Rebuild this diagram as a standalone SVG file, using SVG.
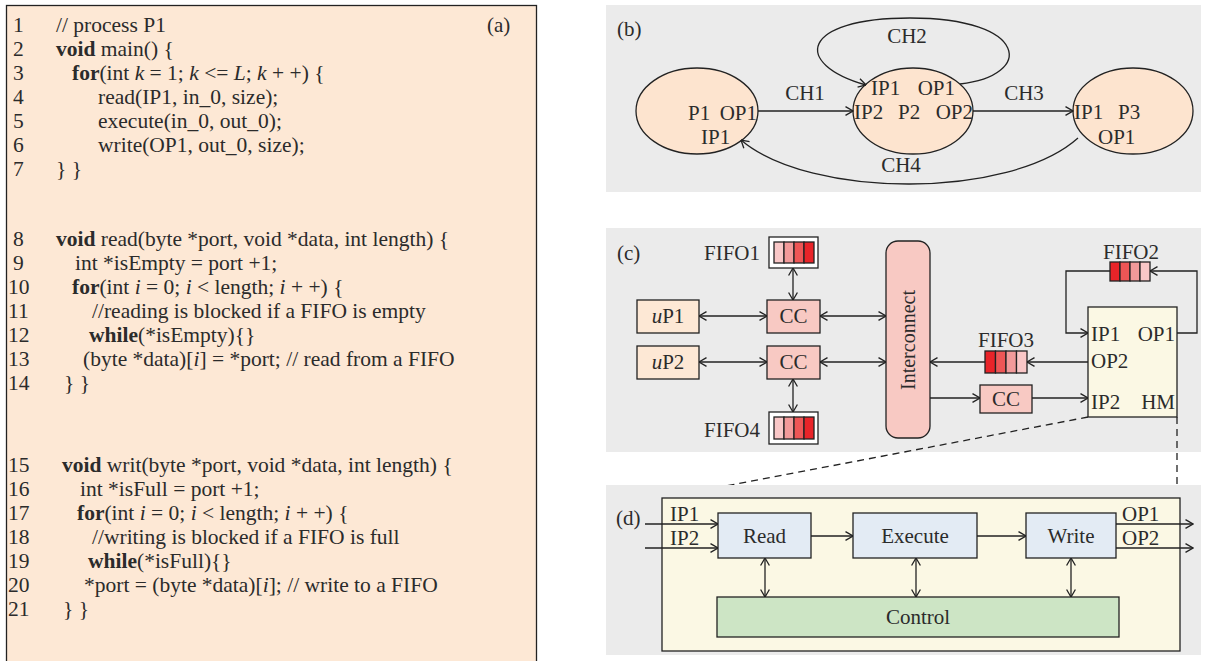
<svg xmlns="http://www.w3.org/2000/svg" width="1208" height="661" viewBox="0 0 1208 661">
  <defs>
    <marker id="ah" viewBox="0 0 10 10" refX="9.5" refY="5" markerWidth="10" markerHeight="10" markerUnits="userSpaceOnUse" orient="auto-start-reverse">
      <path d="M2,0.6 L9.5,5 L2,9.4" fill="none" stroke="#222" stroke-width="1.3"/>
    </marker>
    <style>
      text { font-family: "Liberation Serif", "Times New Roman", serif; fill: #2b2b2b; }
      .code { font-size: 21.5px; }
      .lbl { font-size: 21px; }
      .b { font-weight: bold; }
      .it { font-style: italic; }
      .panel { fill: #ebebeb; }
      .box { stroke: #222; stroke-width: 1.3; }
      .wire { fill: none; stroke: #222; stroke-width: 1.3; }
      .a1 { marker-end: url(#ah); }
      .a2 { marker-start: url(#ah); marker-end: url(#ah); }
      .dash { fill: none; stroke: #222; stroke-width: 1.3; stroke-dasharray: 7 5; }
      .peach { fill: #fde8d5; }
      .pink { fill: #f8c9c3; }
      .cream { fill: #fbf8e4; }
      .blue { fill: #e3ebf4; }
      .green { fill: #cde5c5; }
      .c1 { fill: #f9c7c7; }
      .c2 { fill: #f29a9a; }
      .c3 { fill: #ee5656; }
      .c4 { fill: #e92429; }
    </style>
  </defs>

  <!-- (a) source listing of process P1 -->
  <g id="panel-a">
    <rect x="6.5" y="5.5" width="530" height="670" class="box peach"/>
    <text x="487" y="32" class="lbl">(a)</text>
    <g class="code">
      <text x="13" y="32">1</text>
      <text x="56" y="32">// process P1</text>
      <text x="13" y="56">2</text>
      <text x="56" y="56"><tspan class="b">void</tspan> main() {</text>
      <text x="13" y="80">3</text>
      <text x="72" y="80"><tspan class="b">for</tspan>(int <tspan class="it">k</tspan> = 1; <tspan class="it">k</tspan> &lt;= <tspan class="it">L</tspan>; <tspan class="it">k</tspan> + +) {</text>
      <text x="13" y="104">4</text>
      <text x="98" y="104">read(IP1, in_0, size);</text>
      <text x="13" y="128">5</text>
      <text x="98" y="128">execute(in_0, out_0);</text>
      <text x="13" y="152">6</text>
      <text x="98" y="152">write(OP1, out_0, size);</text>
      <text x="13" y="176">7</text>
      <text x="56" y="176">} }</text>

      <text x="13" y="246">8</text>
      <text x="56" y="246"><tspan class="b">void</tspan> read(byte *port, void *data, int length) {</text>
      <text x="13" y="270">9</text>
      <text x="75" y="270">int *isEmpty = port +1;</text>
      <text x="8" y="294">10</text>
      <text x="72" y="294"><tspan class="b">for</tspan>(int <tspan class="it">i</tspan> = 0; <tspan class="it">i</tspan> &lt; length; <tspan class="it">i</tspan> + +) {</text>
      <text x="8" y="318">11</text>
      <text x="92" y="318">//reading is blocked if a FIFO is empty</text>
      <text x="8" y="342">12</text>
      <text x="89" y="342"><tspan class="b">while</tspan>(*isEmpty){}</text>
      <text x="8" y="366">13</text>
      <text x="83" y="366">(byte *data)[<tspan class="it">i</tspan>] = *port; // read from a FIFO</text>
      <text x="8" y="390">14</text>
      <text x="64" y="390">} }</text>

      <text x="8" y="472">15</text>
      <text x="62" y="472"><tspan class="b">void</tspan> writ(byte *port, void *data, int length) {</text>
      <text x="8" y="496">16</text>
      <text x="80" y="496">int *isFull = port +1;</text>
      <text x="8" y="520">17</text>
      <text x="77" y="520"><tspan class="b">for</tspan>(int <tspan class="it">i</tspan> = 0; <tspan class="it">i</tspan> &lt; length; <tspan class="it">i</tspan> + +) {</text>
      <text x="8" y="544">18</text>
      <text x="92" y="544">//writing is blocked if a FIFO is full</text>
      <text x="8" y="568">19</text>
      <text x="88" y="568"><tspan class="b">while</tspan>(*isFull){}</text>
      <text x="8" y="592">20</text>
      <text x="84" y="592">*port = (byte *data)[<tspan class="it">i</tspan>]; // write to a FIFO</text>
      <text x="8" y="616">21</text>
      <text x="63" y="616">} }</text>
    </g>
  </g>

  <!-- (b) process network -->
  <rect x="606" y="5" width="595" height="187" class="panel"/>
  <text x="617" y="36" class="lbl">(b)</text>
  <g id="P1">
    <ellipse cx="697" cy="111" rx="61" ry="43" class="box" fill="#fde4cf"/>
    <text x="688" y="120" class="lbl">P1</text>
    <text x="757" y="120" class="lbl" text-anchor="end">OP1</text>
    <text x="701" y="144" class="lbl">IP1</text>
  </g>
  <g id="P2">
    <ellipse cx="913" cy="111" rx="60" ry="43" class="box" fill="#fde4cf"/>
    <text x="871" y="95" class="lbl">IP1</text>
    <text x="955" y="95" class="lbl" text-anchor="end">OP1</text>
    <text x="854" y="119" class="lbl">IP2</text>
    <text x="898" y="119" class="lbl">P2</text>
    <text x="973" y="119" class="lbl" text-anchor="end">OP2</text>
  </g>
  <g id="P3">
    <ellipse cx="1133" cy="111" rx="60" ry="43" class="box" fill="#fde4cf"/>
    <text x="1074" y="119" class="lbl">IP1</text>
    <text x="1118" y="119" class="lbl">P3</text>
    <text x="1098" y="144" class="lbl">OP1</text>
  </g>
  <g id="conn-b">
    <path d="M758,111 H853" class="wire a1"/>
    <path d="M973,111 H1073" class="wire a1"/>
    <path d="M960,84 C1034,76 1030,18 910,18 C800,18 792,64 866,85" class="wire a1"/>
    <path d="M1078,138 C1010,199 810,199 741,140" class="wire a1"/>
    <text x="805" y="100" class="lbl" text-anchor="middle">CH1</text>
    <text x="907" y="43" class="lbl" text-anchor="middle">CH2</text>
    <text x="1024" y="100" class="lbl" text-anchor="middle">CH3</text>
    <text x="901" y="172" class="lbl" text-anchor="middle">CH4</text>
  </g>

  <!-- (c) platform with FIFOs, interconnect and hardware module -->
  <rect x="606" y="228" width="595" height="224" class="panel"/>
  <text x="617" y="260" class="lbl">(c)</text>
  <g id="conn-c">
    <path d="M699,316 H767" class="wire a2"/>
    <path d="M820,316 H886" class="wire a2"/>
    <path d="M699,362 H767" class="wire a2"/>
    <path d="M820,362 H886" class="wire a2"/>
    <path d="M793,268 V300" class="wire a2"/>
    <path d="M793,379 V412" class="wire a2"/>
    <path d="M1177,333 H1197 V271 H1150" class="wire a1"/>
    <path d="M1110,271 H1066 V333 H1088" class="wire a1"/>
    <path d="M1088,362 H1027" class="wire a1"/>
    <path d="M985,362 H930" class="wire a1"/>
    <path d="M930,398 H980" class="wire a1"/>
    <path d="M1032,398 H1088" class="wire a1"/>
    <path d="M1088,417 L663,498" class="dash"/>
    <path d="M1177,417 V498" class="dash"/>
  </g>
  <g id="FIFO1">
    <text x="760" y="260" class="lbl" text-anchor="end">FIFO1</text>
    <rect x="769" y="237" width="49" height="31" class="box" fill="#fff"/>
    <rect x="774" y="242" width="10" height="21" class="box c1"/>
    <rect x="784" y="242" width="10" height="21" class="box c2"/>
    <rect x="794" y="242" width="10" height="21" class="box c3"/>
    <rect x="804" y="242" width="10" height="21" class="box c4"/>
  </g>
  <g id="uP1">
    <rect x="637" y="300" width="62" height="33" class="box peach"/>
    <text x="668" y="323" class="lbl" text-anchor="middle"><tspan class="it">u</tspan>P1</text>
  </g>
  <g id="CC1">
    <rect x="767" y="300" width="53" height="33" class="box pink"/>
    <text x="793.5" y="323" class="lbl" text-anchor="middle">CC</text>
  </g>
  <g id="uP2">
    <rect x="637" y="346" width="62" height="33" class="box peach"/>
    <text x="668" y="369" class="lbl" text-anchor="middle"><tspan class="it">u</tspan>P2</text>
  </g>
  <g id="CC2">
    <rect x="767" y="346" width="53" height="33" class="box pink"/>
    <text x="793.5" y="369" class="lbl" text-anchor="middle">CC</text>
  </g>
  <g id="FIFO4">
    <text x="760" y="437" class="lbl" text-anchor="end">FIFO4</text>
    <rect x="769" y="412" width="49" height="32" class="box" fill="#fff"/>
    <rect x="774" y="417" width="10" height="22" class="box c1"/>
    <rect x="784" y="417" width="10" height="22" class="box c2"/>
    <rect x="794" y="417" width="10" height="22" class="box c3"/>
    <rect x="804" y="417" width="10" height="22" class="box c4"/>
  </g>
  <g id="Interconnect">
    <rect x="886" y="241" width="44" height="197" rx="12" class="box pink"/>
    <text x="915" y="340" font-size="20" text-anchor="middle" transform="rotate(-90 915 340)">Interconnect</text>
  </g>
  <g id="FIFO2">
    <text x="1131" y="259" class="lbl" text-anchor="middle">FIFO2</text>
    <rect x="1110" y="262" width="10" height="19" class="box c4"/>
    <rect x="1120" y="262" width="10" height="19" class="box c3"/>
    <rect x="1130" y="262" width="10" height="19" class="box c2"/>
    <rect x="1140" y="262" width="10" height="19" class="box c1"/>
  </g>
  <g id="FIFO3">
    <text x="1006" y="347" class="lbl" text-anchor="middle">FIFO3</text>
    <rect x="985" y="351" width="10.5" height="22" class="box c4"/>
    <rect x="995.5" y="351" width="10.5" height="22" class="box c3"/>
    <rect x="1006" y="351" width="10.5" height="22" class="box c2"/>
    <rect x="1016.5" y="351" width="10.5" height="22" class="box c1"/>
  </g>
  <g id="CC3">
    <rect x="980" y="385" width="52" height="28" class="box pink"/>
    <text x="1006" y="406" class="lbl" text-anchor="middle">CC</text>
  </g>
  <g id="HM">
    <rect x="1088" y="307" width="89" height="110" class="box cream"/>
    <text x="1091" y="341" class="lbl">IP1</text>
    <text x="1175" y="341" class="lbl" text-anchor="end">OP1</text>
    <text x="1091" y="368" class="lbl">OP2</text>
    <text x="1091" y="409" class="lbl">IP2</text>
    <text x="1175" y="409" class="lbl" text-anchor="end">HM</text>
  </g>

  <!-- (d) internals of the hardware module -->
  <rect x="606" y="485" width="595" height="170" class="panel"/>
  <g id="HM-detail">
    <rect x="662" y="498" width="518" height="153" class="box cream"/>
  </g>
  <text x="616" y="525" class="lbl">(d)</text>
  <g id="conn-d">
    <path d="M645,524 H718" class="wire a1"/>
    <path d="M645,548 H718" class="wire a1"/>
    <path d="M1116,524 H1193" class="wire a1"/>
    <path d="M1116,548 H1193" class="wire a1"/>
    <path d="M811,536 H853" class="wire a1"/>
    <path d="M977,536 H1026" class="wire a1"/>
    <path d="M765,558 V597" class="wire a2"/>
    <path d="M916,558 V597" class="wire a2"/>
    <path d="M1071,558 V597" class="wire a2"/>
    <text x="670" y="521" class="lbl">IP1</text>
    <text x="670" y="545" class="lbl">IP2</text>
    <text x="1122" y="521" class="lbl">OP1</text>
    <text x="1122" y="545" class="lbl">OP2</text>
  </g>
  <g id="Read">
    <rect x="718" y="513" width="93" height="45" class="box blue"/>
    <text x="764.5" y="543" class="lbl" text-anchor="middle">Read</text>
  </g>
  <g id="Execute">
    <rect x="853" y="513" width="124" height="45" class="box blue"/>
    <text x="915" y="543" class="lbl" text-anchor="middle">Execute</text>
  </g>
  <g id="Write">
    <rect x="1026" y="513" width="90" height="45" class="box blue"/>
    <text x="1071" y="543" class="lbl" text-anchor="middle">Write</text>
  </g>
  <g id="Control">
    <rect x="717" y="597" width="402" height="40" class="box green"/>
    <text x="918" y="624" class="lbl" text-anchor="middle">Control</text>
  </g>
</svg>
